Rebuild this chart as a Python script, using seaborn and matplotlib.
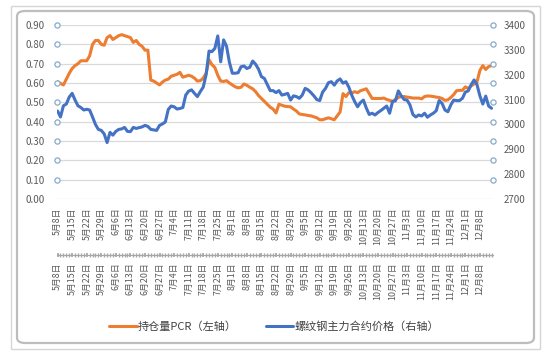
import numpy as np
import pandas as pd
import matplotlib
matplotlib.use("Agg")
import matplotlib.pyplot as plt
import seaborn as sns
from matplotlib.patches import FancyBboxPatch, Rectangle
from matplotlib.lines import Line2D

sns.set_theme(style="white")
plt.rcParams["font.family"] = ["Noto Sans CJK SC", "DejaVu Sans"]
plt.rcParams["axes.unicode_minus"] = False

date_labels = ["5月8日", "5月15日", "5月22日", "5月29日", "6月6日", "6月13日", "6月20日",
               "6月27日", "7月4日", "7月11日", "7月18日", "7月25日", "8月1日", "8月8日",
               "8月15日", "8月22日", "8月29日", "9月5日", "9月12日", "9月19日", "9月26日",
               "10月13日", "10月20日", "10月27日", "11月3日", "11月10日", "11月17日",
               "11月24日", "12月1日", "12月8日"]

pcr = [0.607, 0.598, 0.59, 0.62, 0.65, 0.675, 0.69, 0.70, 0.715, 0.715,
       0.715, 0.74, 0.80, 0.82, 0.82, 0.80, 0.795, 0.835, 0.845, 0.825,
       0.835, 0.845, 0.85, 0.845, 0.84, 0.835, 0.81, 0.82, 0.80, 0.79,
       0.77, 0.77, 0.615, 0.61, 0.60, 0.59, 0.605, 0.615, 0.62, 0.635,
       0.64, 0.645, 0.655, 0.63, 0.635, 0.64, 0.635, 0.625, 0.61, 0.612,
       0.625, 0.65, 0.72, 0.695, 0.68, 0.64, 0.61, 0.608, 0.612, 0.60,
       0.59, 0.58, 0.575, 0.578, 0.595, 0.588, 0.578, 0.57, 0.555, 0.535,
       0.52, 0.505, 0.49, 0.475, 0.465, 0.445, 0.49, 0.485, 0.48, 0.478,
       0.477, 0.465, 0.455, 0.44, 0.437, 0.435, 0.432, 0.43, 0.425, 0.42,
       0.41, 0.41, 0.415, 0.42, 0.415, 0.41, 0.43, 0.45, 0.545, 0.53,
       0.55, 0.548, 0.555, 0.55, 0.56, 0.565, 0.57, 0.545, 0.52, 0.52,
       0.52, 0.52, 0.522, 0.515, 0.51, 0.505, 0.515, 0.525, 0.53, 0.53,
       0.527, 0.525, 0.522, 0.522, 0.522, 0.518, 0.53, 0.533, 0.532, 0.53,
       0.527, 0.525, 0.52, 0.51, 0.513, 0.525, 0.54, 0.56, 0.562, 0.562,
       0.58, 0.572, 0.585, 0.595, 0.605, 0.665, 0.69, 0.67, 0.685, 0.69]

price = [3054, 3030, 3075, 3082, 3110, 3125, 3098, 3075, 3068, 3058,
         3061, 3058, 3030, 3000, 2980, 2976, 2962, 2927, 2968, 2957,
         2972, 2980, 2982, 2988, 2972, 2971, 2988, 2984, 2987, 2990,
         2996, 2992, 2980, 2978, 2976, 2996, 3002, 3010, 3060, 3074,
         3071, 3062, 3064, 3068, 3118, 3134, 3139, 3125, 3112, 3132,
         3150, 3200, 3295, 3293, 3306, 3356, 3252, 3340, 3315, 3250,
         3206, 3206, 3208, 3232, 3235, 3225, 3230, 3255, 3242, 3222,
         3192, 3185, 3160, 3136, 3136, 3128, 3136, 3118, 3121, 3125,
         3098, 3115, 3112, 3105, 3118, 3145, 3139, 3128, 3115, 3100,
         3096, 3130, 3145, 3168, 3172, 3158, 3175, 3183, 3166, 3172,
         3150, 3118, 3092, 3071, 3088, 3098, 3066, 3040, 3045, 3038,
         3048, 3056, 3065, 3074, 3045, 3092, 3095, 3135, 3115, 3100,
         3098, 3078, 3040, 3030, 3038, 3034, 3045, 3029, 3038, 3045,
         3055, 3096, 3085, 3058, 3051, 3078, 3098, 3096, 3096, 3105,
         3130, 3135, 3160, 3179, 3160, 3115, 3082, 3114, 3074, 3065]

label_pcr = "持仓量PCR（左轴）"
label_price = "螺纹钢主力合约价格（右轴）"

df = pd.DataFrame({"idx": np.arange(len(pcr)), "pcr": pcr, "price": price})

W, H = 550, 354
fig = plt.figure(figsize=(W / 100, H / 100), dpi=100)
fig.patch.set_facecolor("white")

# chart frame
fig.patches.append(Rectangle((11 / W, 5 / H), (540 - 11) / W, (348 - 5) / H,
                             transform=fig.transFigure, fc="white", ec="#d6d6d6",
                             lw=1.0, zorder=-3))
fig.patches.append(FancyBboxPatch((17 / W, 11 / H), (534 - 17) / W, (343 - 11) / H,
                                  boxstyle="round,pad=0,rounding_size=0.015",
                                  transform=fig.transFigure, fc="white", ec="#bdbdbd",
                                  lw=1.6, zorder=-2))

ax = fig.add_axes([57 / W, 1 - 199 / H, (493 - 57) / W, 174 / H])
ax.set_facecolor("none")
ax2 = ax.twinx()

sns.lineplot(data=df, x="idx", y="pcr", ax=ax, color="#ED7D31", lw=2.2, legend=False)
sns.lineplot(data=df, x="idx", y="price", ax=ax2, color="#4472C4", lw=2.2, legend=False)

ax.set_xlim(-0.2, len(pcr) - 0.5)
ax.set_ylim(0, 0.9)
ax2.set_ylim(2700, 3400)
ax.set_xlabel("")
ax.set_ylabel("")
ax2.set_ylabel("")

yt = np.round(np.arange(0, 0.91, 0.1), 2)
ax.set_yticks(yt)
ax.set_yticklabels([f"{v:.2f}" for v in yt])
ax2.set_yticks(np.arange(2700, 3401, 100))

ax.yaxis.grid(True, color="#d9d9d9", lw=0.9)
ax.xaxis.grid(False)
ax2.grid(False)
for a in (ax, ax2):
    for s in a.spines.values():
        s.set_visible(False)

ax.tick_params(axis="y", length=0, pad=9, labelsize=7, labelcolor="#595959")
ax2.tick_params(axis="y", length=0, pad=8, labelsize=7, labelcolor="#595959")

pos = np.arange(0, len(pcr), 5)[:len(date_labels)]
ax.set_xticks(pos)
ax.set_xticklabels(date_labels, rotation=90, fontsize=6.4, color="#595959")
ax.tick_params(axis="x", length=0, pad=6)

sec = ax.secondary_xaxis(-0.322)
sec.set_xticks(pos)
sec.set_xticklabels(date_labels, rotation=90, fontsize=6.4, color="#595959")
sec.set_xticks(np.arange(len(pcr)), minor=True)
sec.tick_params(axis="x", which="both", length=3, direction="inout", color="#a6a6a6", pad=4)
sec.spines["bottom"].set_color("#a6a6a6")
sec.spines["bottom"].set_linewidth(0.8)

# gridline selection handles
xl = ax.get_xlim()
hy = yt[1:]
ax.scatter(np.r_[np.full(len(hy), xl[0]), np.full(len(hy), xl[1])], np.r_[hy, hy],
           s=14, facecolor="white", edgecolor="#86abc9", linewidth=0.9,
           clip_on=False, zorder=6)

handles = [Line2D([], [], color="#ED7D31", lw=2.2), Line2D([], [], color="#4472C4", lw=2.2)]
fig.legend(handles, [label_pcr, label_price], loc="center", bbox_to_anchor=(274 / W, 1 - 327 / H),
           ncol=2, frameon=False, fontsize=8, handlelength=2.5, handletextpad=0.1,
           columnspacing=2.6, labelcolor="#404040")

fig.savefig("out.png", dpi=100, facecolor="white")
